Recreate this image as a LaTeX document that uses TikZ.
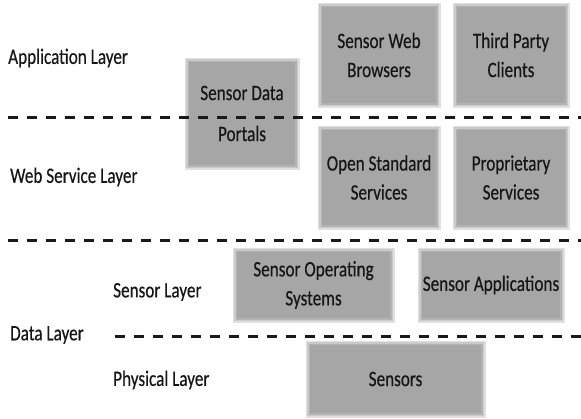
\documentclass[tikz,border=0pt]{standalone}
\usepackage{fontspec}
\setmainfont{Carlito}[FakeStretch=0.78, FakeBold=0.4]
\definecolor{boxgray}{HTML}{A6A6A6}
\definecolor{inkgray}{HTML}{161616}
\tikzset{
  layerbox/.style={fill=boxgray, draw=none, align=center, inner sep=0pt,
    text=inkgray, font=\fontsize{22}{29}\selectfont,
    preaction={draw=boxgray!35, line width=9pt},
    preaction={draw=boxgray!60, line width=6pt},
    preaction={draw=boxgray!85, line width=3pt}},
  layerlabel/.style={anchor=west, inner sep=0pt, text=inkgray,
    font=\fontsize{22}{29}\selectfont},
  divider/.style={line width=3pt, dash pattern=on 10pt off 9pt, black!90}
}
\begin{document}
\begin{tikzpicture}[x=1pt, y=-1pt]
  \useasboundingbox[fill=white] (0,0) rectangle (581,418);

  % layer names
  \node[layerlabel] (app)  at (8,58)    {Application Layer};
  \node[layerlabel] (web)  at (10,177)  {Web Service Layer};
  \node[layerlabel] (sens) at (113,292) {Sensor Layer};
  \node[layerlabel] (data) at (10,335)  {Data Layer};
  \node[layerlabel] (phys) at (113,380) {Physical Layer};

  % component boxes
  \node[layerbox, minimum width=106pt, minimum height=103pt] (portals)  at (242,113.5) {Sensor Data\\[12pt]Portals};
  \node[layerbox, minimum width=114pt, minimum height=96pt]  (browsers) at (379,55)    {Sensor Web\\Browsers};
  \node[layerbox, minimum width=108pt, minimum height=96pt]  (clients)  at (511,55)    {Third Party\\Clients};
  \node[layerbox, minimum width=114pt, minimum height=95pt]  (openstd)  at (379,177.5) {Open Standard\\Services};
  \node[layerbox, minimum width=108pt, minimum height=95pt]  (propr)    at (511,177.5) {Proprietary\\Services};
  \node[layerbox, minimum width=153pt, minimum height=66pt]  (sensos)   at (313.5,285) {Sensor Operating\\Systems};
  \node[layerbox, minimum width=138pt, minimum height=66pt]  (sensapps) at (491,285)   {Sensor Applications};
  \node[layerbox, minimum width=171pt, minimum height=68pt]  (sensors)  at (395.5,379) {Sensors};

  % layer dividers
  \coordinate (d1a) at (8,117);   \coordinate (d1b) at (581,117);
  \coordinate (d2a) at (8,240);   \coordinate (d2b) at (581,240);
  \coordinate (d3a) at (115,336); \coordinate (d3b) at (581,336);
  \draw[divider] (d1a) -- (d1b);
  \draw[divider] (d2a) -- (d2b);
  \draw[divider] (d3a) -- (d3b);
\end{tikzpicture}
\end{document}
